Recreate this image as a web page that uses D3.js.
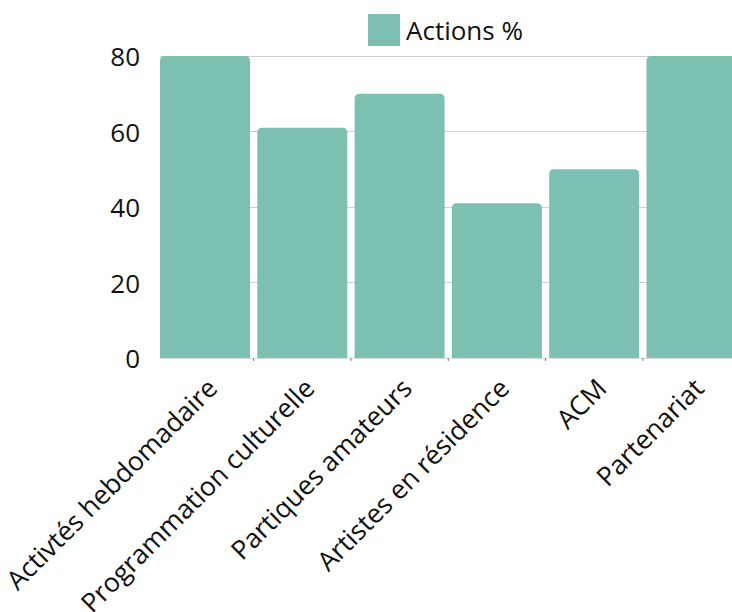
<!DOCTYPE html>
<html lang="fr">
<head>
  <meta charset="UTF-8"/>
  <title>Actions %</title>
  <style>
    *{margin:0;padding:0}
    body{background:#fff;font-family:"Open Sans",sans-serif}
    svg{display:block}
  </style>
</head>
<body>
  <div id="chart"></div>
  <script src="https://d3js.org/d3.v7.min.js"></script>
  <script>
    const categories = ['Activtés hebdomadaire','Programmation culturelle','Partiques amateurs','Artistes en résidence','ACM','Partenariat'];
    const values     = [80, 61, 70, 41, 50, 80];
    const yTicks     = [0, 20, 40, 60, 80];
    const seriesName = 'Actions %';

    const W = 732, H = 612;
    const color = '#7bc0b1';
    const m = {left:160, top:56, bottom:254};
    const step = 97.3, gap = 7.3;

    const svg = d3.select('#chart').append('svg')
      .attr('width', W).attr('height', H);

    const x = d3.scaleBand().domain(categories)
      .range([m.left, m.left + categories.length*step - gap])
      .paddingInner(gap/step).paddingOuter(0);
    const y = d3.scaleLinear().domain([0, 80]).range([H - m.bottom, m.top]);

    // gridlines
    svg.append('g').selectAll('line').data(yTicks).join('line')
      .attr('x1', m.left).attr('x2', W)
      .attr('y1', d => y(d)).attr('y2', d => y(d))
      .attr('stroke', d => d === 0 ? '#ddd' : '#cfcfcf').attr('stroke-width', 1)
      .attr('shape-rendering', 'crispEdges');

    // small ticks between bars
    svg.append('g').selectAll('line').data(d3.range(1, categories.length)).join('line')
      .attr('x1', i => x(categories[i]) - gap/2).attr('x2', i => x(categories[i]) - gap/2)
      .attr('y1', y(0)).attr('y2', y(0) + 3)
      .attr('stroke', '#777').attr('stroke-width', 1);

    // bars with rounded top corners
    const r = 5;
    svg.append('g').selectAll('path').data(values).join('path')
      .attr('fill', color)
      .attr('d', (v, i) => {
        const x0 = x(categories[i]), x1 = x0 + x.bandwidth(), y0 = y(0), y1 = y(v);
        return `M${x0},${y0}V${y1+r}Q${x0},${y1} ${x0+r},${y1}H${x1-r}Q${x1},${y1} ${x1},${y1+r}V${y0}Z`;
      });

    // y labels
    svg.append('g').selectAll('text').data(yTicks).join('text')
      .attr('x', 140).attr('y', d => y(d))
      .attr('text-anchor', 'end').attr('dominant-baseline', 'central')
      .attr('font-size', 26).attr('fill', '#111')
      .text(d => d);

    // x labels, rotated
    svg.append('g').selectAll('text').data(categories).join('text')
      .attr('transform', d => `translate(${x(d) + x.bandwidth()/2 + 7},${y(0) + 25}) rotate(-45)`)
      .attr('text-anchor', 'end').attr('dominant-baseline', 'central')
      .attr('font-size', 26.5).attr('fill', '#111')
      .text(d => d);

    // legend
    const lg = svg.append('g');
    lg.append('rect').attr('x', 368).attr('y', 14).attr('width', 32).attr('height', 32).attr('fill', color);
    lg.append('text').attr('x', 406).attr('y', 30).attr('dominant-baseline', 'central')
      .attr('font-size', 26).attr('fill', '#111').text(seriesName);
  </script>
</body>
</html>
